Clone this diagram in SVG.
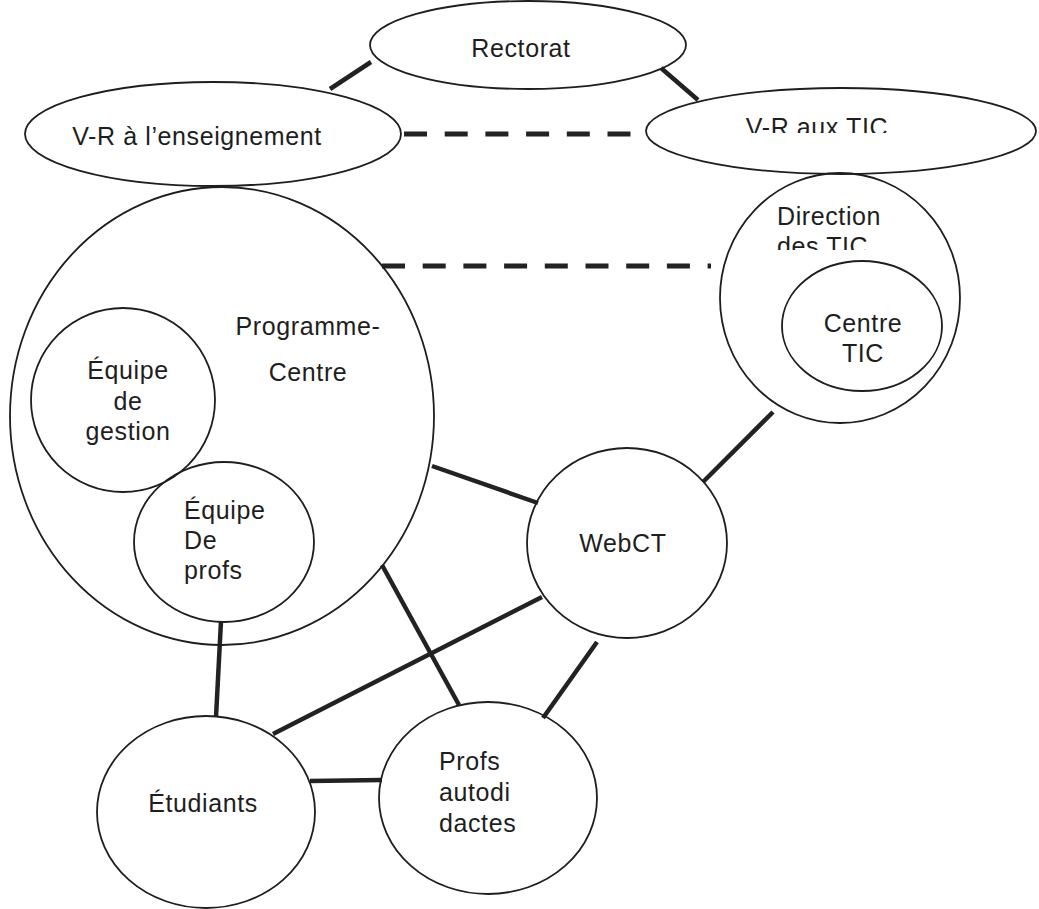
<svg xmlns="http://www.w3.org/2000/svg" width="1039" height="909" viewBox="0 0 1039 909">
<style>
.n{fill:none;stroke:#1e1e1e;stroke-width:1.8}
.t{font-family:"Liberation Sans",Arial,sans-serif;font-size:25px;letter-spacing:0.6px;fill:#1e1e1e}
.c{text-anchor:middle}
.e{stroke:#222;stroke-width:4.5;fill:none}
.d{stroke:#222;stroke-width:5;fill:none;stroke-dasharray:23 17.7}
</style>
<defs>
<clipPath id="clipVR"><rect x="600" y="0" width="439" height="133"/></clipPath>
<clipPath id="clipDes"><rect x="700" y="200" width="300" height="50"/></clipPath>
</defs>
<rect width="1039" height="909" fill="#fff"/>
<g id="connectors">
<line class="e" x1="371" y1="62" x2="330" y2="89"/>
<line class="e" x1="661" y1="68" x2="698" y2="100"/>
<path class="d" d="M404 134 H631"/>
<path class="d" d="M382 266 H711"/>
<line class="e" x1="773" y1="412" x2="703" y2="482"/>
<line class="e" x1="432" y1="466" x2="538" y2="503"/>
<line class="e" x1="382" y1="565" x2="459" y2="705"/>
<line class="e" x1="542" y1="597" x2="273" y2="734"/>
<line class="e" x1="221" y1="621" x2="216" y2="717"/>
<line class="e" x1="310" y1="781" x2="382" y2="780"/>
<line class="e" x1="597" y1="642" x2="543" y2="718"/>
</g>
<g id="rectorat">
<ellipse class="n" cx="528" cy="45" rx="158" ry="44"/>
<text class="t c" x="521" y="57">Rectorat</text>
</g>
<g id="vr-enseignement">
<ellipse class="n" cx="213" cy="134" rx="188" ry="52"/>
<text class="t c" x="197" y="145">V-R à l’enseignement</text>
</g>
<g id="vr-tic">
<ellipse class="n" cx="841" cy="131" rx="195" ry="43"/>
<text class="t c" x="817" y="136" clip-path="url(#clipVR)">V-R aux TIC</text>
</g>
<g id="programme-centre">
<ellipse class="n" cx="222" cy="416" rx="212" ry="229"/>
<text class="t c" x="308" y="335">Programme-</text>
<text class="t c" x="308" y="381">Centre</text>
</g>
<g id="equipe-gestion">
<ellipse class="n" cx="123" cy="400" rx="92" ry="92"/>
<text class="t c" x="128" y="379">Équipe</text>
<text class="t c" x="128" y="410">de</text>
<text class="t c" x="128" y="440">gestion</text>
</g>
<g id="equipe-profs">
<ellipse class="n" cx="224" cy="542" rx="90" ry="80"/>
<text class="t" x="184" y="519">Équipe</text>
<text class="t" x="184" y="549">De</text>
<text class="t" x="184" y="579">profs</text>
</g>
<g id="direction-tic">
<ellipse class="n" cx="840" cy="298" rx="120" ry="125"/>
<text class="t" x="777" y="225">Direction</text>
<text class="t" x="777" y="255" clip-path="url(#clipDes)">des TIC</text>
</g>
<g id="centre-tic">
<ellipse class="n" cx="862" cy="326" rx="80" ry="65"/>
<text class="t c" x="863" y="332">Centre</text>
<text class="t c" x="863" y="362">TIC</text>
</g>
<g id="webct">
<ellipse class="n" cx="627" cy="543" rx="100" ry="95"/>
<text class="t c" x="623" y="552">WebCT</text>
</g>
<g id="etudiants">
<ellipse class="n" cx="206" cy="812" rx="109" ry="96"/>
<text class="t c" x="203" y="812">Étudiants</text>
</g>
<g id="profs-autodidactes">
<ellipse class="n" cx="488" cy="798" rx="109" ry="96"/>
<text class="t" x="439" y="770">Profs</text>
<text class="t" x="439" y="801">autodi</text>
<text class="t" x="439" y="832">dactes</text>
</g>
</svg>
